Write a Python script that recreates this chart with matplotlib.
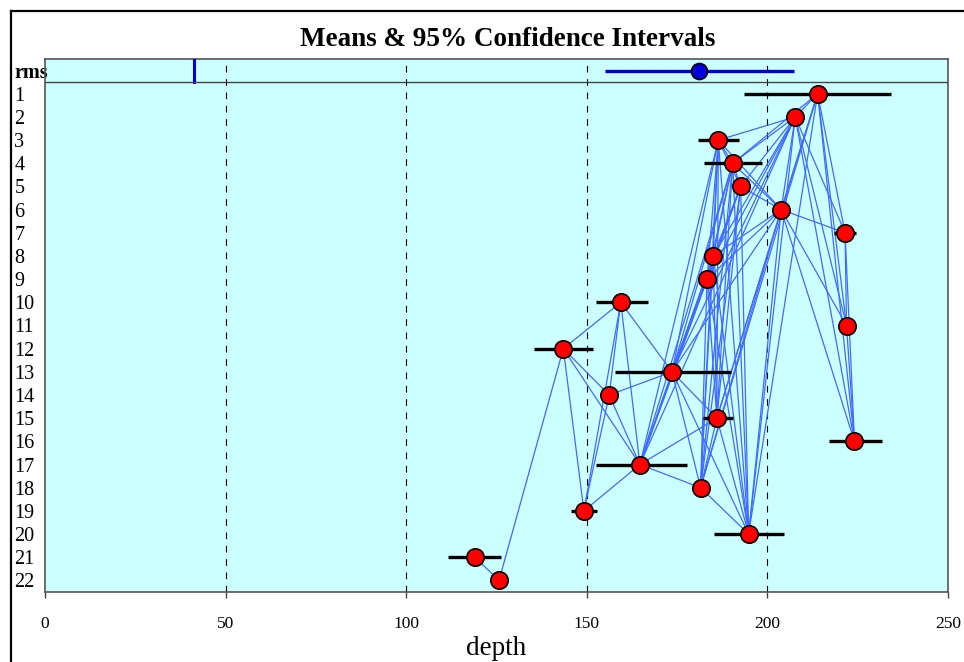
import numpy as np
import matplotlib
matplotlib.use("Agg")
import matplotlib.pyplot as plt
from matplotlib.lines import Line2D

plt.rcParams['font.family'] = ['Liberation Serif', 'DejaVu Serif']

# row labels (rms first, then groups 1..22)
labels = ['rms'] + [str(i) for i in range(1, 23)]

# group means (depth)
means = [213.9, 207.7, 186.4, 190.4, 192.6, 203.8, 221.5, 185.0, 183.3, 159.4, 221.9,
         143.5, 173.6, 156.2, 186.0, 224.1, 164.7, 181.5, 149.2, 194.8, 119.0, 125.7]
# 95% confidence limits
ci_low = [193.6, 206.0, 180.7, 182.4, 191.0, 202.2, 218.5, 183.5, 181.8, 152.5, 220.3,
          135.5, 157.8, 154.6, 182.1, 217.1, 152.5, 180.0, 145.6, 185.2, 111.6, 123.4]
ci_high = [234.2, 209.4, 192.2, 198.4, 194.2, 205.4, 224.5, 186.5, 184.8, 167.0, 223.5,
           151.8, 189.9, 157.8, 190.4, 231.6, 177.7, 183.0, 152.8, 204.7, 126.2, 128.0]

# rms row
rms_mean = 181.1
rms_low, rms_high = 155.0, 207.4
rms_ref = 41.3

# pairs of groups joined by a line
links = [(1, 2), (1, 4), (1, 6), (1, 7), (1, 11), (1, 16), (1, 20), (1, 15), (1, 18),
         (2, 3), (2, 4), (2, 5), (2, 6), (2, 7), (2, 11), (2, 16), (2, 20), (2, 8), (2, 9),
         (2, 13), (2, 17),
         (3, 4), (3, 5), (3, 6), (3, 8), (3, 9), (3, 13), (3, 15), (3, 17), (3, 18), (3, 20),
         (4, 5), (4, 6), (4, 8), (4, 9), (4, 13), (4, 15), (4, 17), (4, 18), (4, 20),
         (5, 6), (5, 8), (5, 9), (5, 13), (5, 15), (5, 17), (5, 18), (5, 20),
         (6, 7), (6, 8), (6, 9), (6, 11), (6, 13), (6, 15), (6, 16), (6, 18), (6, 20),
         (7, 11), (7, 16),
         (8, 9), (8, 13), (8, 15), (8, 17), (8, 18), (8, 20),
         (9, 13), (9, 15), (9, 17), (9, 18), (9, 20),
         (10, 12), (10, 13), (10, 14), (10, 17), (10, 19),
         (11, 16),
         (12, 14), (12, 17), (12, 19), (12, 22),
         (13, 14), (13, 15), (13, 17), (13, 18), (13, 20),
         (14, 17), (14, 19),
         (15, 17), (15, 18), (15, 20),
         (17, 18), (17, 19),
         (18, 20),
         (21, 22)]

fig = plt.figure(figsize=(9.64, 6.62), dpi=100)
ax = fig.add_axes([45 / 964, 1 - 592 / 662, 903 / 964, 533 / 662])
ax.set_facecolor('#CCFFFF')

rows = np.arange(1, 23)

for a, b in links:
    ax.plot([means[a - 1], means[b - 1]], [a, b], color='#3F6BFF', lw=0.9, zorder=2)

for r, lo, hi in zip(rows, ci_low, ci_high):
    ax.plot([lo, hi], [r, r], color='black', lw=2.4, solid_capstyle='butt', zorder=3)
ax.plot(means, rows, 'o', ms=12.5, mfc='red', mec='black', mew=1.2, zorder=4, ls='none')

# rms row
ax.plot([rms_low, rms_high], [0, 0], color='#0000DD', lw=2.4, solid_capstyle='butt', zorder=3)
ax.plot([rms_mean], [0], 'o', ms=11.5, mfc='#0000DD', mec='black', mew=1.2, zorder=4)
ax.plot([rms_ref, rms_ref], [-0.5, 0.5], color='#0000DD', lw=2.2, zorder=3)
ax.axhline(0.5, color='#444444', lw=1, zorder=3)

for gx in [50, 100, 150, 200]:
    ax.axvline(gx, color='black', lw=0.8, ls=(0, (6, 6)), zorder=1)

ax.set_xlim(0, 250)
ax.set_ylim(22.5, -0.5)
ax.set_xticks([0, 50, 100, 150, 200, 250])
ax.tick_params(axis='x', length=4, width=1, color='#444444', labelsize=12.5, pad=13)
ax.set_yticks(np.arange(0, 23))
ax.set_yticklabels(labels, fontsize=14.5, ha='left')
ax.tick_params(axis='y', length=0, pad=22)
ax.get_yticklabels()[0].set_fontweight('bold')
ax.set_xlabel('depth', fontsize=19.5, labelpad=3)

for s in ax.spines.values():
    s.set_color('#555555')
    s.set_linewidth(1.2)

fig.text(0.527, 1 - 39 / 662, 'Means & 95% Confidence Intervals', ha='center', va='center',
         fontsize=19.5, fontweight='bold')

# outer frame (left and top edges)
fig.add_artist(Line2D([11 / 964, 11 / 964], [0, 1 - 11 / 662], color='black', lw=1.6,
                      transform=fig.transFigure))
fig.add_artist(Line2D([11 / 964, 1], [1 - 11 / 662, 1 - 11 / 662], color='black', lw=1.6,
                      transform=fig.transFigure))

fig.savefig('out.png', dpi=100)
